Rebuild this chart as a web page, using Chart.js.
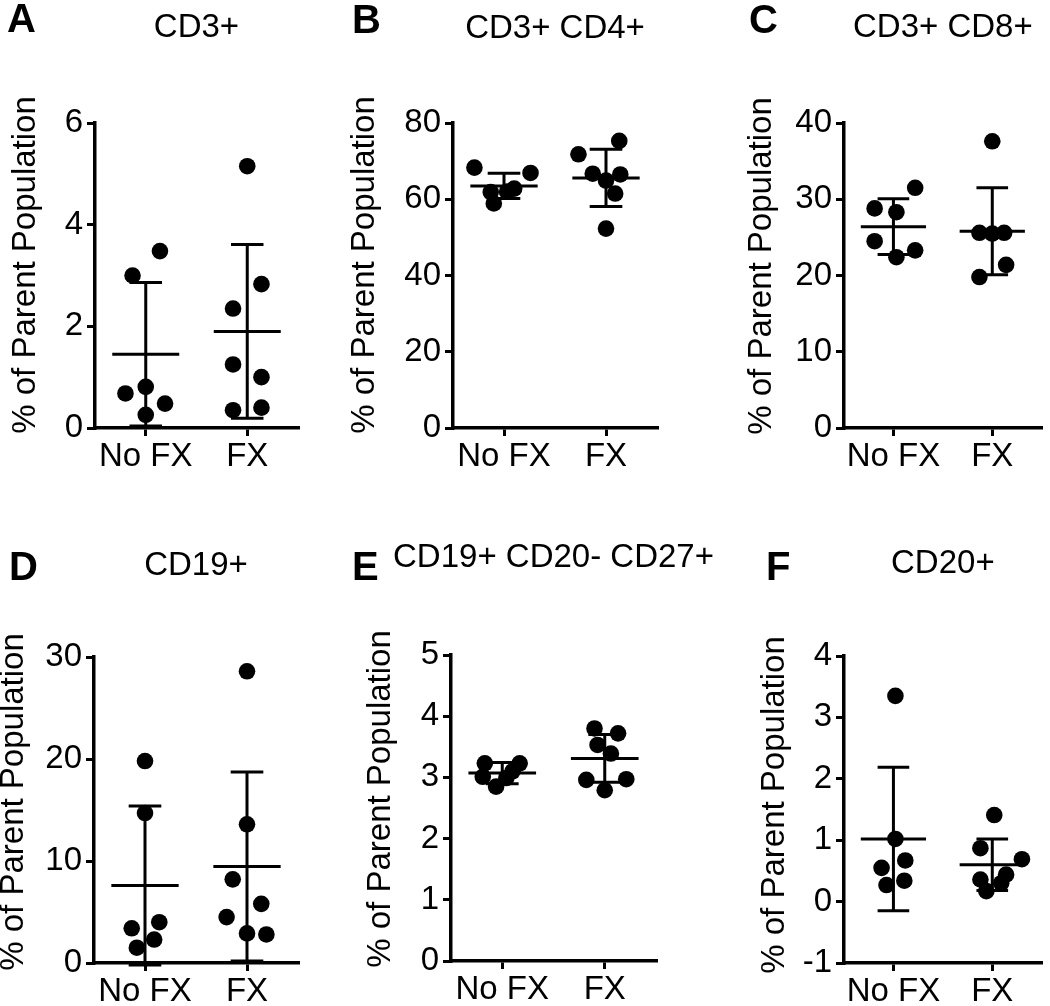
<!DOCTYPE html>
<html>
<head>
<meta charset="utf-8">
<script src="https://cdn.jsdelivr.net/npm/chart.js@4.4.1/dist/chart.umd.min.js"></script>
<style>
  html, body { margin: 0; padding: 0; background: #fff; }
  #wrap { position: relative; width: 1050px; height: 1006px; overflow: hidden; }
  #wrap canvas { position: absolute; left: 0; top: 0; }
</style>
</head>
<body>
<div id="wrap"></div>
<script>
// groups and panels
const groups = ["No FX", "FX"];
const letters = ["A", "B", "C", "D", "E", "F"];
const titles = ["CD3+", "CD3+ CD4+", "CD3+ CD8+", "CD19+", "CD19+ CD20- CD27+", "CD20+"];
const yTitle = "% of Parent Population";
const yMins = [0, 0, 0, 0, 0, -1];
const yMaxs = [6, 80, 40, 30, 5, 4];
const ySteps = [2, 20, 10, 10, 1, 1];

// individual values
const noFx = [
  [0.68, 0.81, 0.48, 0.26, 3.0, 3.48],
  [68.3, 66.9, 61.9, 62.8, 58.9, 62.0],
  [28.8, 28.3, 31.5, 24.5, 22.4, 23.3],
  [19.8, 14.7, 3.4, 4.0, 2.3, 1.5],
  [3.23, 3.23, 3.01, 2.85, 2.99, 3.1],
  [3.35, 1.02, 0.67, 0.55, 0.34, 0.27]
];
const fx = [
  [5.15, 2.35, 2.83, 1.25, 1.0, 0.35, 0.4],
  [71.8, 75.3, 66.7, 64.9, 66.5, 61.5, 52.3],
  [37.6, 25.6, 25.5, 25.6, 19.8, 21.4],
  [28.6, 13.6, 8.2, 5.8, 4.5, 2.9, 2.8],
  [3.80, 3.72, 3.53, 3.39, 2.96, 2.97, 2.79],
  [1.41, 0.87, 0.69, 0.44, 0.36, 0.30, 0.17]
];
// horizontal scatter of the dots (in category units)
const noFxJitter = [
  [-0.2, 0, 0.19, 0, -0.13, 0.14],
  [-0.29, 0.26, -0.13, 0.1, -0.1, 0.03],
  [-0.19, 0.03, 0.22, -0.19, 0.03, 0.22],
  [0, 0, -0.13, 0.14, 0.09, -0.08],
  [-0.17, 0.17, -0.19, -0.06, 0.04, 0.1],
  [0.02, 0.02, 0.12, -0.12, 0.11, -0.07]
];
const fxJitter = [
  [0, -0.14, 0.14, -0.14, 0.14, -0.14, 0.14],
  [-0.27, 0.13, -0.13, 0, 0.14, 0.09, 0],
  [0, -0.13, 0, 0.12, -0.13, 0.14],
  [0, 0, -0.14, 0.14, -0.2, 0, 0.19],
  [-0.1, 0.13, -0.07, 0.06, -0.18, 0.21, 0],
  [0.02, -0.12, 0.3, 0.14, -0.12, 0.09, -0.06]
];
// mean and SD bars
const noFxMean = [1.45, 63.5, 26.4, 7.6, 3.07, 1.02];
const noFxSD = [1.41, 3.3, 3.65, 7.8, 0.175, 1.17];
const fxMean = [1.90, 65.6, 25.8, 9.46, 3.31, 0.60];
const fxSD = [1.71, 7.5, 5.7, 9.27, 0.39, 0.42];

// where each panel sits on the page
const frames = [
  { l: 95, r: 298, t: 123, b: 428, ty: 37, lx: 8, ly: 32, yx: 26, yy: 265 },
  { l: 453, r: 657, t: 123, b: 428, ty: 38, lx: 353, ly: 33, yx: 365, yy: 265 },
  { l: 844, r: 1048, t: 123, b: 428, ty: 37, lx: 750, ly: 33, yx: 762, yy: 266 },
  { l: 94, r: 298, t: 657, b: 963, ty: 575, lx: 10, ly: 580, yx: 14, yy: 802 },
  { l: 451, r: 656, t: 655, b: 961, ty: 567, lx: 353, ly: 580, yx: 381, yy: 799 },
  { l: 844, r: 1048, t: 656, b: 963, ty: 573, lx: 767, ly: 580, yx: 775, yy: 805 }
];

const FONT = '"Liberation Sans", Arial, Helvetica, sans-serif';
const W = 1050, H = 1006, YW = 60, XH = 60;

// mean line + SD whiskers, panel letter, title and y title
const panelDecor = {
  id: "panelDecor",
  afterDatasetsDraw(chart, args, opts) {
    const i = opts.index;
    const { ctx, scales: { x, y } } = chart;
    ctx.save();
    ctx.strokeStyle = "#000";
    ctx.lineWidth = 3;
    [[0, noFxMean[i], noFxSD[i]], [1, fxMean[i], fxSD[i]]].forEach(([g, m, sd]) => {
      const cx = x.getPixelForValue(g);
      const half = x.getPixelForValue(g + 0.33) - cx;
      const cap = x.getPixelForValue(g + 0.16) - cx;
      const ym = y.getPixelForValue(m);
      const yt = y.getPixelForValue(m + sd);
      const yb = y.getPixelForValue(m - sd);
      ctx.beginPath();
      ctx.moveTo(cx - half, ym); ctx.lineTo(cx + half, ym);
      ctx.moveTo(cx, yt); ctx.lineTo(cx, yb);
      ctx.moveTo(cx - cap, yt); ctx.lineTo(cx + cap, yt);
      ctx.moveTo(cx - cap, yb); ctx.lineTo(cx + cap, yb);
      ctx.stroke();
    });
    ctx.restore();
  },
  afterDraw(chart, args, opts) {
    const i = opts.index;
    const f = frames[i];
    const { ctx, chartArea } = chart;
    ctx.save();
    ctx.fillStyle = "#000";
    ctx.textBaseline = "alphabetic";
    ctx.font = "bold 40px " + FONT;
    ctx.textAlign = "left";
    ctx.fillText(letters[i], f.lx - 1, f.ly);
    ctx.font = "33px " + FONT;
    ctx.textAlign = "center";
    ctx.fillText(titles[i], (chartArea.left + chartArea.right) / 2, f.ty);
    ctx.translate(f.yx + 8.6, f.yy);
    ctx.rotate(-Math.PI / 2);
    ctx.fillText(yTitle, 0, 0);
    ctx.restore();
  }
};

const wrap = document.getElementById("wrap");

frames.forEach((f, i) => {
  const canvas = document.createElement("canvas");
  canvas.width = W;
  canvas.height = H;
  canvas.style.width = W + "px";
  canvas.style.height = H + "px";
  wrap.appendChild(canvas);

  const tickFont = { family: FONT, size: 33 };
  const axisGrid = {
    display: true,
    drawOnChartArea: false,
    drawTicks: true,
    tickLength: 8,
    tickWidth: 3,
    tickColor: "#000",
    color: "#000",
    lineWidth: 3
  };
  const axisBorder = { display: true, color: "#000", width: 3.5 };

  new Chart(canvas, {
    type: "scatter",
    data: {
      datasets: [
        { data: noFx[i].map((v, k) => ({ x: 0 + noFxJitter[i][k], y: v })) },
        { data: fx[i].map((v, k) => ({ x: 1 + fxJitter[i][k], y: v })) }
      ]
    },
    options: {
      responsive: false,
      animation: false,
      devicePixelRatio: 1,
      layout: {
        padding: { left: f.l - YW, right: W - f.r, top: f.t, bottom: H - f.b - XH }
      },
      datasets: {
        scatter: {
          pointRadius: 8.3,
          pointHoverRadius: 8.3,
          pointBackgroundColor: "#000",
          pointBorderColor: "#000",
          pointBorderWidth: 0
        }
      },
      plugins: {
        legend: { display: false },
        tooltip: { enabled: false },
        panelDecor: { index: i }
      },
      scales: {
        x: {
          type: "linear",
          min: -0.5,
          max: 1.5,
          afterBuildTicks: (s) => { s.ticks = [{ value: 0 }, { value: 1 }]; },
          afterFit: (s) => { s.height = XH; },
          ticks: {
            callback: (v) => groups[v],
            font: tickFont,
            color: "#000",
            padding: 1,
            maxRotation: 0,
            autoSkip: false
          },
          grid: axisGrid,
          border: axisBorder
        },
        y: {
          min: yMins[i],
          max: yMaxs[i],
          afterFit: (s) => { s.width = YW; },
          ticks: {
            stepSize: ySteps[i],
            font: tickFont,
            color: "#000",
            padding: 4,
            autoSkip: false
          },
          grid: axisGrid,
          border: axisBorder
        }
      }
    },
    plugins: [panelDecor]
  });
});
</script>
</body>
</html>
